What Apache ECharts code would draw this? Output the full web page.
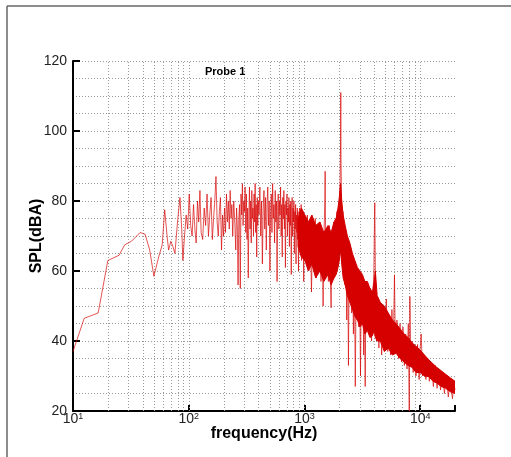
<!DOCTYPE html>
<html><head><meta charset="utf-8">
<script src="https://cdn.jsdelivr.net/npm/echarts@6/dist/echarts.min.js"></script>
<style>html,body{margin:0;padding:0;background:#fff}#c{width:511px;height:457px}</style>
</head><body><div id="c"></div>
<script>
// Spectrum line (frequency Hz, SPL dBA)
const lineFreq = [
10,12.5,16.5,20,25,28,32,38,42,46,50,55,59,62,65,67,70,73,76,80,84,87,89,92,95,98,
101,104,107,110,113,116,119,122,125,128,132,136,140,144,148,152,156,160,164,168,172,176,180,184,188,192,196,200,
204,208,212,216,220,224,228,232,236,240,245,250,255,259,263,267,271,275,279,283,287,291,295,299,303,307,311,315,319,323,327,331,335,339,343,347,351,355,359,363,367,371,375,379,383,387,391,395,399,
405,412,419,426,433,440,447,454,461,468,475,482,489,496,503,510,517,524,531,538,545,552,559,566,573,580,587,594,601,608,615,622,629,636,643,650,657,664,671,678,685,692,699,706,713,720,727,734,741,748,755,762,769,776,783,790,797,804,811,818,825,832,839,846,853,860,867,874,881,888,895,902,909,916,923,930,937,944,951,958,965,972,979,986,993,1000,
1030,1060,1090,1120,1150,1180,1210,1240,1270,1300,1330,1360,1390,1420,1450,1480,1500,1510,1520,1550,1580,1610,1640,1670,1700,1730,1760,1790,1820,1850,1880,1910,1940,1970,2000,2030,2050,2061,2070,2090,2120,2150,2180,2210,2240,2280,2320,2360,2400,2440,2480,2520,2560,2600,2650,2700,2750,2800,2850,2900,2950,3000,3050,3100,3150,3200,3250,3300,3350,3400,3450,3500,3600,3700,3800,3900,3980,4030,4055,4080,4120,4200,4300,4400,4500,4650,4800,4950,5100,5250,5400,5550,5700,5850,6000,6100,6300,6500,6700,6900,7100,7300,7500,7700,7900,8050,8150,8300,8500,8700,8900,9200,9500,9800,10000,10200,10500,10800,11200,11600,12000,12500,13000,13500,14000,14500,15000,15600,16200,16800,17500,18200,19000,19600,20000
];
const lineSpl = [
37,46.5,48,63,64.5,67.5,68.5,71,70.5,66,58.5,64,67.5,77.5,70,66,68.5,67,65,74,81,72,63,70,76,72,
82,73,70,79,72,68,80,74,83,71,69,78,73,82,70,76,81,69,75,80,87,74,70,77,81,66,76,70,
78,71,82,74,80,72,83,75,79,70,80,74,66,78,73,56,75,79,55,82,76,85,73,80,77,84,71,82,69,78,58,76,84,72,80,68,83,75,78,70,82,74,85,71,79,64,81,73,80,
76,84,70,80,62,78,83,72,81,66,79,84,73,80,60,77,82,71,85,75,79,68,83,74,80,57,78,82,72,80,76,84,70,79,64,81,75,83,72,79,61,80,76,82,70,78,74,81,67,79,73,80,59,77,81,70,78,74,80,65,77,72,79,62,76,71,78,69,77,60,75,70,78,66,76,71,79,63,75,70,77,68,74,57,76,70,
64,76,60,74,54,73,62,75,58,72,61,74,57,71,50,72,80,88.5,74,60,72,57,73,59,49.5,70,61,74,58,75,62,77,64,79,66,84,96,111,92,82,70,77,60,73,56,70,46,68,33,66,52,64,48,62,42,61,27,58,46,60,44,57,30,58,45,56,36,55,27,56,44,53,42,55,40,52,60,75,79.5,68,50,40,52,38,51,36,50,39,52,37,47,36,49,37,58.9,38,46,35,45,34,44,33,42,32,45,20,52.7,33,40,31,39,30,39,29,38,42,30,36,29,35,28.5,34,27,33,26.5,32,26,31,25,30,24,29,23.5,28,26
];
// Dense band envelope (about 1 kHz - 20 kHz)
const bandFreq = [880,940,1010,1080,1160,1250,1360,1470,1600,1700,1800,1880,1950,2000,2050,2100,2160,2250,2350,2470,2600,2730,2870,3020,3170,3330,3500,3680,3870,4000,4100,4250,4530,4900,5300,5750,6200,6700,7270,7850,8500,9200,9960,10900,11900,12900,13900,15200,16600,18200,20000];
const bandLow  = [67,64,63,60,62,58,60,57,59,56,58,59,61,63,66,62,58,56,53,51,49,47,46,44,45,42,43,41,41.5,43,41,40,40,37,38,36,36.5,35,34,33,32.5,31,31,30,29.8,28.5,28,27,26.5,25.5,25];
const bandHigh = [75,78,76,74,76,73,74,71,73,71,74,75,78,81,85,80,76,73,70,68,65,63,61,60,59,57,57,55,54,57,60,53,51,50,48,46,45,43.5,42,41,39.5,38.5,37.5,36,34.6,33.5,32.5,31.5,30.5,29.5,28.5];
// Vertical dotted grid lines (log decades subdivisions)
const gridFreq = [20,30,40,50,60,70,80,90,100,200,300,400,500,600,700,800,900,1000,2000,3000,4000,5000,6000,7000,8000,9000,10000,20000];
const yMin = 20, yMax = 120, yStep = 20;
const xMin = 10, xMax = 20000;

const FONT = "'Liberation Sans', Arial, Helvetica, sans-serif";
const chart = echarts.init(document.getElementById('c'));
const lineData = lineFreq.map((f, i) => [f, lineSpl[i]]);
const bandData = bandFreq.map((f, i) => [f, bandLow[i], bandHigh[i]]);
const gridData = gridFreq.map(f => [f, yMin, yMax]);

chart.setOption({
  animation: false,
  backgroundColor: '#fff',
  title: {
    text: 'Probe 1', left: 205, top: 66, padding: 0,
    textStyle: { fontFamily: FONT, fontSize: 11, fontWeight: 'bold', color: '#000' }
  },
  graphic: [
    { type: 'line', shape: { x1: 7, y1: 6, x2: 7, y2: 457 }, style: { stroke: '#666', lineWidth: 1.5 } },
    { type: 'line', shape: { x1: 7, y1: 6, x2: 511, y2: 6 }, style: { stroke: '#666', lineWidth: 1.5 } }
  ],
  grid: { left: 73, right: 56, top: 61, bottom: 46, containLabel: false },
  xAxis: {
    type: 'log', logBase: 10, min: xMin, max: xMax,
    name: 'frequency(Hz)', nameLocation: 'middle', nameGap: 15, nameMoveOverlap: false,
    nameTextStyle: { fontFamily: FONT, fontSize: 16, fontWeight: 'bold', color: '#000' },
    axisLine: { lineStyle: { color: '#000', width: 2 } },
    axisTick: { inside: true, length: 6, lineStyle: { color: '#000', width: 2 } },
    axisLabel: {
      margin: 1, color: '#222', fontFamily: FONT, fontSize: 14,
      formatter: v => {
        const e = Math.round(Math.log10(v));
        if (Math.abs(Math.pow(10, e) - v) > 1e-6 * v) return '';
        return '10{s|' + e + '}';
      },
      rich: { s: { fontSize: 9, fontFamily: FONT, color: '#222', verticalAlign: 'top', padding: [0, 0, 6, 0] } }
    },
    splitLine: { show: false },
    minorTick: { show: false }, minorSplitLine: { show: false }
  },
  yAxis: {
    type: 'value', min: yMin, max: yMax, interval: yStep,
    name: 'SPL(dBA)', nameLocation: 'middle', nameGap: 28, nameMoveOverlap: false,
    nameTextStyle: { fontFamily: FONT, fontSize: 16, fontWeight: 'bold', color: '#000' },
    axisLine: { show: true, lineStyle: { color: '#000', width: 2 } },
    axisTick: { show: true, inside: true, length: 7, lineStyle: { color: '#000', width: 2 } },
    axisLabel: { margin: 6, color: '#222', fontFamily: FONT, fontSize: 14 },
    splitLine: { show: true, lineStyle: { color: '#999', type: [1, 2], width: 1 } },
    minorTick: { show: false, splitNumber: 4 },
    minorSplitLine: { show: true, lineStyle: { color: '#999', type: [1, 2], width: 1 } }
  },
  series: [
    {
      type: 'custom', z: 1, silent: true, clip: true,
      data: gridData,
      encode: { x: 0, y: [1, 2] },
      renderItem: (params, api) => {
        const a = api.coord([api.value(0), api.value(1)]);
        const b = api.coord([api.value(0), api.value(2)]);
        return { type: 'line', shape: { x1: Math.round(a[0]) + 0.5, y1: a[1], x2: Math.round(b[0]) + 0.5, y2: b[1] },
                 style: { stroke: '#999', lineWidth: 1, lineDash: [1, 2] } };
      }
    },
    {
      type: 'custom', z: 2, silent: true, clip: true,
      data: bandData,
      encode: { x: 0, y: [1, 2] },
      renderItem: (params, api) => {
        if (params.dataIndex !== 0) return null;
        const up = bandData.map(d => api.coord([d[0], d[2]]));
        const lo = bandData.map(d => api.coord([d[0], d[1]])).reverse();
        return { type: 'polygon', shape: { points: up.concat(lo) },
                 style: { fill: '#d40000', stroke: '#d40000', lineWidth: 1 } };
      }
    },
    {
      type: 'line', z: 3, data: lineData, showSymbol: false, symbol: 'none', silent: true,
      sampling: null,
      lineStyle: { color: 'rgba(214,0,0,0.75)', width: 0.9 }
    }
  ]
});
</script>
</body></html>
